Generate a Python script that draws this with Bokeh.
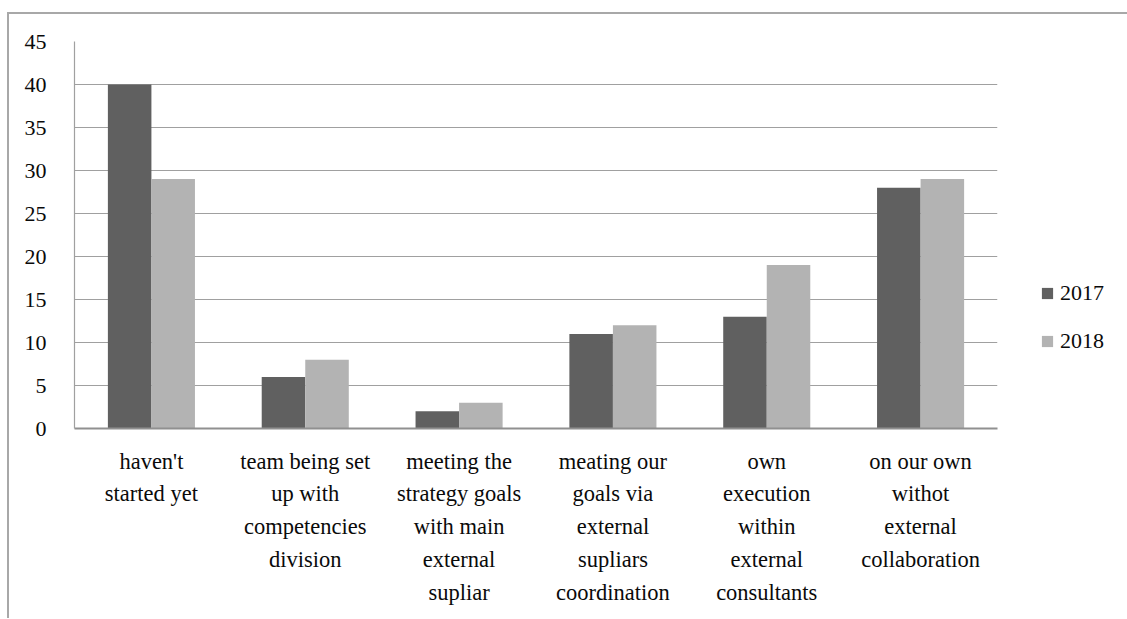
from bokeh.plotting import figure
from bokeh.models import ColumnDataSource, FactorRange, Range1d, FixedTicker, Legend, LegendItem
from bokeh.transform import dodge
from bokeh.embed import file_html
from bokeh.resources import INLINE

# Survey answers (x categories, wrapped for the axis) and counts per year
categories = [
    "haven't\nstarted yet",
    "team being set\nup with\ncompetencies\ndivision",
    "meeting the\nstrategy goals\nwith main\nexternal\nsupliar",
    "meating our\ngoals via\nexternal\nsupliars\ncoordination",
    "own\nexecution\nwithin\nexternal\nconsultants",
    "on our own\nwithot\nexternal\ncollaboration",
]
values_2017 = [40, 6, 2, 11, 13, 28]
values_2018 = [29, 8, 3, 12, 19, 29]
series_names = ["2017", "2018"]
y_ticks = [0, 5, 10, 15, 20, 25, 30, 35, 40, 45]

FONT = "Liberation Serif"
DARK = "#606060"
LIGHT = "#b3b3b3"

source = ColumnDataSource(data=dict(cat=categories, y2017=values_2017, y2018=values_2018))

p = figure(
    frame_width=923, frame_height=387,
    x_range=FactorRange(*categories, range_padding=0),
    y_range=Range1d(0, 45),
    output_backend="svg", toolbar_location=None,
    min_border_left=65, min_border_right=121,
    min_border_top=27, min_border_bottom=190,
)
p.styles = {
    "margin-left": "7px", "margin-top": "12px",
    "border-left": "2px solid #a8a8a8", "border-top": "2px solid #a8a8a8",
}

r17 = p.vbar(x=dodge("cat", -0.1415, range=p.x_range), top="y2017", width=0.283,
             source=source, color=DARK, line_color=None)
r18 = p.vbar(x=dodge("cat", 0.1415, range=p.x_range), top="y2018", width=0.283,
             source=source, color=LIGHT, line_color=None)

p.outline_line_color = None
p.xgrid.grid_line_color = None
p.ygrid.grid_line_color = "#a0a0a0"
p.ygrid.grid_line_width = 1.2
p.yaxis.ticker = FixedTicker(ticks=y_ticks)

for ax in (p.xaxis[0], p.yaxis[0]):
    ax.major_tick_line_color = None
    ax.minor_tick_line_color = None
    ax.major_label_text_font = FONT
    ax.major_label_text_color = "#0a0a0a"

p.yaxis.major_label_text_font_size = "22px"
p.xaxis.major_label_text_font_size = "22.5px"
p.yaxis.axis_line_color = "#a0a0a0"
p.yaxis.axis_line_width = 1.2
p.yaxis.major_label_standoff = 22
p.xaxis.axis_line_color = "#909090"
p.xaxis.axis_line_width = 2
p.xaxis.major_label_standoff = 14
p.xaxis.major_label_text_line_height = 1.31
p.xaxis.major_label_orientation = "horizontal"

lg = Legend(
    items=[LegendItem(label=series_names[0], renderers=[r17]),
           LegendItem(label=series_names[1], renderers=[r18])],
    location=(43, 74),
    border_line_color=None, background_fill_alpha=0,
    padding=0, margin=0,
    glyph_width=14, glyph_height=14, label_height=20,
    spacing=22, label_standoff=6,
    label_text_font=FONT, label_text_font_size="22px", label_text_color="#0a0a0a",
)
p.add_layout(lg, "right")

open("out.html", "w").write(file_html(p, INLINE))
